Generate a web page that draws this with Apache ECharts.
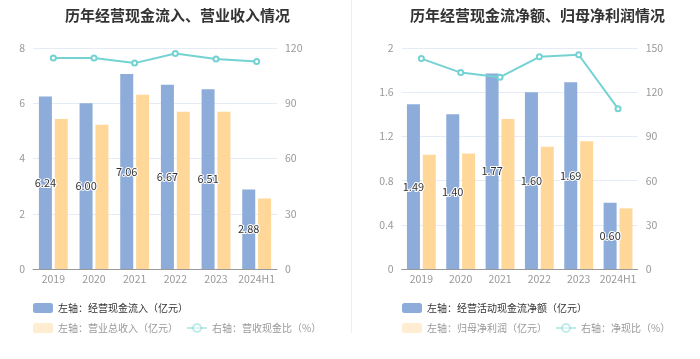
<!DOCTYPE html>
<html>
<head>
<meta charset="utf-8">
<script src="https://cdn.jsdelivr.net/npm/echarts@6/dist/echarts.min.js"></script>
<style>
html,body{margin:0;padding:0;background:#fff;}
#main{width:700px;height:359px;}
</style>
</head>
<body>
<div id="main"></div>
<script>
var categories = ['2019', '2020', '2021', '2022', '2023', '2024H1'];
// left chart
var cashInflow = [6.24, 6.00, 7.06, 6.67, 6.51, 2.88];
var revenue = [5.43, 5.22, 6.31, 5.69, 5.69, 2.55];
var cashRevRatio = [114.6, 114.6, 111.8, 117.0, 114.0, 112.7];
// right chart
var netCashFlow = [1.49, 1.40, 1.77, 1.60, 1.69, 0.60];
var netProfit = [1.034, 1.046, 1.357, 1.107, 1.155, 0.549];
var netCashRatio = [142.8, 133.3, 130.2, 144.0, 145.4, 108.8];

var names = {
  a1: '左轴：经营现金流入（亿元）',
  a2: '左轴：营业总收入（亿元）',
  a3: '右轴：营收现金比（%）',
  b1: '左轴：经营活动现金流净额（亿元）',
  b2: '左轴：归母净利润（亿元）',
  b3: '右轴：净现比（%）'
};

var FONT = '"Noto Sans CJK SC", "Noto Sans", sans-serif';
var BLUE = '#8DACDA', YELLOW = '#FFD899', CYAN = '#74D2D3';

function xAxis(gi) {
  return {
    type: 'category', gridIndex: gi, data: categories,
    axisLine: {lineStyle: {color: '#999'}},
    axisTick: {alignWithLabel: true, length: 4, lineStyle: {color: '#999'}},
    axisLabel: {color: '#999', fontSize: 10.5, fontFamily: FONT, margin: 5, interval: 0}
  };
}
function yAxis(gi, max, interval, pos, split) {
  return {
    type: 'value', gridIndex: gi, min: 0, max: max, interval: interval, position: pos,
    axisLine: {show: false}, axisTick: {show: false},
    axisLabel: {color: '#999', fontSize: 10.5, fontFamily: FONT, margin: 8,
      formatter: function (v) { return String(Math.round(v * 10) / 10); }},
    splitLine: {show: split, lineStyle: {color: '#E6ECF5'}}
  };
}
var labelCfg = {
  show: true, position: 'inside', color: '#333', fontSize: 11, fontFamily: FONT,
  textBorderColor: '#fff', textBorderWidth: 2,
  formatter: function (p) { return p.value.toFixed(2); }
};
function legend(left, top, data, color, faded) {
  var l = {
    left: left, top: top, data: data, itemWidth: 20, itemHeight: 10, itemGap: 8,
    textStyle: {color: color, fontSize: 10, fontFamily: FONT}, selectedMode: false
  };
  if (faded) {
    l.itemStyle = {opacity: 0.45};
    l.lineStyle = {opacity: 0.45};
  }
  return l;
}

var option = {
  animation: false,
  title: [
    {text: '历年经营现金流入、营业收入情况', left: 60, top: 3,
      textStyle: {fontSize: 15, fontWeight: 'bold', color: '#333', fontFamily: FONT}},
    {text: '历年经营现金流净额、归母净利润情况', left: 405, top: 3,
      textStyle: {fontSize: 15, fontWeight: 'bold', color: '#333', fontFamily: FONT}}
  ],
  graphic: [{type: 'line', shape: {x1: 351.5, y1: 0, x2: 351.5, y2: 333},
    style: {stroke: '#EEEEEE', lineWidth: 1}}],
  legend: [
    legend(28, 298, [names.a1], '#333', false),
    legend(28, 318, [names.a2, names.a3], '#999', true),
    legend(397, 298, [names.b1], '#333', false),
    legend(397, 318, [names.b2, names.b3], '#999', true)
  ],
  grid: [
    {left: 33, top: 48, width: 244, height: 221},
    {left: 401.7, top: 48, width: 236, height: 221}
  ],
  xAxis: [xAxis(0), xAxis(1)],
  yAxis: [
    yAxis(0, 8, 2, 'left', true),
    yAxis(0, 120, 30, 'right', false),
    yAxis(1, 2, 0.4, 'left', true),
    yAxis(1, 150, 30, 'right', false)
  ],
  series: [
    {name: names.a1, type: 'bar', xAxisIndex: 0, yAxisIndex: 0, data: cashInflow,
      barWidth: 13, barGap: '22%', itemStyle: {color: BLUE}, label: labelCfg},
    {name: names.a2, type: 'bar', xAxisIndex: 0, yAxisIndex: 0, data: revenue,
      barWidth: 13, barGap: '22%', itemStyle: {color: YELLOW}},
    {name: names.a3, type: 'line', xAxisIndex: 0, yAxisIndex: 1, data: cashRevRatio,
      symbol: 'emptyCircle', symbolSize: 5, lineStyle: {color: CYAN, width: 2},
      itemStyle: {color: CYAN}},
    {name: names.b1, type: 'bar', xAxisIndex: 1, yAxisIndex: 2, data: netCashFlow,
      barWidth: 13, barGap: '22%', itemStyle: {color: BLUE}, label: labelCfg},
    {name: names.b2, type: 'bar', xAxisIndex: 1, yAxisIndex: 2, data: netProfit,
      barWidth: 13, barGap: '22%', itemStyle: {color: YELLOW}},
    {name: names.b3, type: 'line', xAxisIndex: 1, yAxisIndex: 3, data: netCashRatio,
      symbol: 'emptyCircle', symbolSize: 5, lineStyle: {color: CYAN, width: 2},
      itemStyle: {color: CYAN}}
  ]
};
var chart = echarts.init(document.getElementById('main'), null, {renderer: 'canvas'});
chart.setOption(option);
</script>
</body>
</html>
